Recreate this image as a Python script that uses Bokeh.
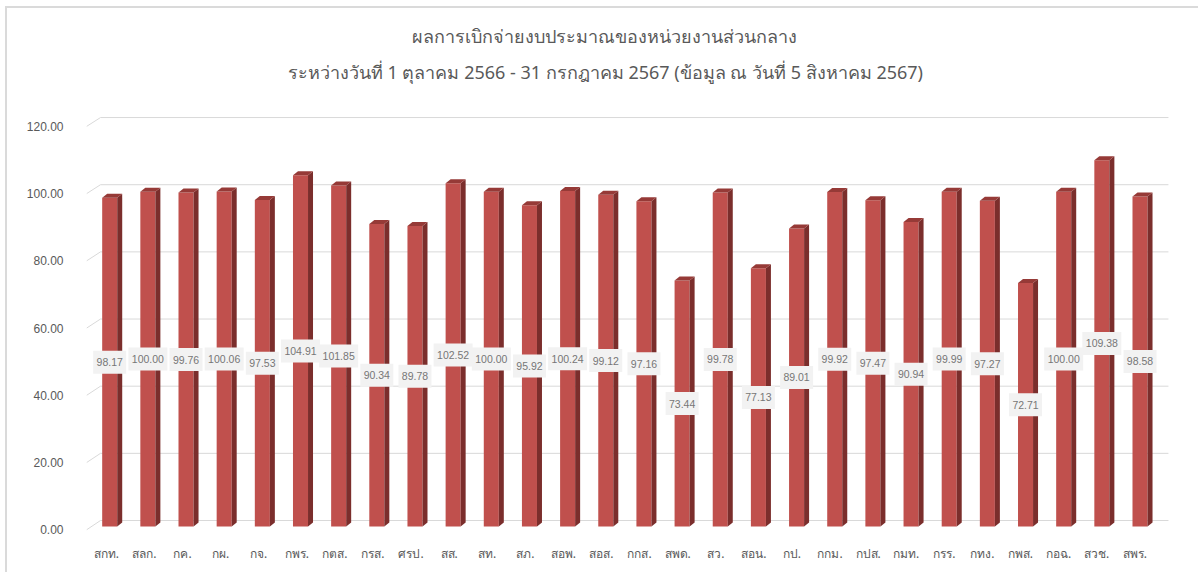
from bokeh.plotting import figure
from bokeh.models import Range1d, LinearAxis, FixedTicker, ColumnDataSource
from bokeh.core.properties import value
from bokeh.embed import file_html
from bokeh.resources import INLINE

title_line1 = "ผลการเบิกจ่ายงบประมาณของหน่วยงานส่วนกลาง"
title_line2 = "ระหว่างวันที่ 1 ตุลาคม 2566 - 31 กรกฎาคม 2567 (ข้อมูล ณ วันที่ 5 สิงหาคม 2567)"

categories = ["สกท.", "สลก.", "กค.", "กผ.", "กจ.", "กพร.", "กตส.", "กรส.", "ศรป.", "สส.",
              "สท.", "สภ.", "สอพ.", "สอส.", "กกส.", "สพด.", "สว.", "สอน.", "กป.", "กกม.",
              "กปส.", "กมท.", "กรร.", "กทง.", "กพส.", "กอฉ.", "สวช.", "สพร."]
values = [98.17, 100.00, 99.76, 100.06, 97.53, 104.91, 101.85, 90.34, 89.78, 102.52,
          100.00, 95.92, 100.24, 99.12, 97.16, 73.44, 99.78, 77.13, 89.01, 99.92,
          97.47, 90.94, 99.99, 97.27, 72.71, 100.00, 109.38, 98.58]
y_ticks = [0, 20, 40, 60, 80, 100, 120]
y_tick_labels = ["0.00", "20.00", "40.00", "60.00", "80.00", "100.00", "120.00"]

FRONT = "#C0504D"
SIDE = "#7B2E2C"
TOP = "#963A37"
GRID = "#D9D9D9"
TXT = "#595959"

# the frame reaches the top of the canvas so the two title lines are drawn inside it
p = figure(width=1193, height=566, output_backend="svg", toolbar_location=None,
           x_range=Range1d(-0.608, 27.93), y_range=Range1d(-2.987, 154.72),
           x_axis_location=None, y_axis_location=None,
           min_border_left=79, min_border_right=25, min_border_top=0, min_border_bottom=38)
p.outline_line_color = None
p.grid.visible = False
p.background_fill_color = "white"
p.border_fill_color = "white"
p.styles = {"margin-left": "5px", "margin-top": "6px",
            "border-left": "2px solid #DADADA", "border-top": "2px solid #DADADA"}

# axes with their own ranges (labels sit on the front edge of the 3-D floor)
p.extra_x_ranges = {"lab": Range1d(-0.520, 28.07)}
p.extra_y_ranges = {"lab": Range1d(-1.99, 155.10)}

n = len(categories)
xaxis = LinearAxis(x_range_name="lab", ticker=FixedTicker(ticks=list(range(n))),
                   major_label_overrides={i: c for i, c in enumerate(categories)})
yaxis = LinearAxis(y_range_name="lab", ticker=FixedTicker(ticks=y_ticks),
                   major_label_overrides={t: l for t, l in zip(y_ticks, y_tick_labels)})
for ax in (xaxis, yaxis):
    ax.axis_line_color = None
    ax.major_tick_line_color = None
    ax.minor_tick_line_color = None
    ax.major_label_text_color = TXT
    ax.major_label_text_font = "Noto Sans"
    ax.major_label_text_font_size = "12px"
xaxis.major_label_standoff = 2
yaxis.major_label_standoff = 17
yaxis.major_label_text_font = "Liberation Sans"
p.add_layout(xaxis, "below")
p.add_layout(yaxis, "left")

# two-line title
p.text(x=[12.97, 12.99], y=[146.36, 135.90], text=[title_line1, title_line2],
       text_align="center", text_baseline="middle", text_font=value("Noto Sans"),
       text_font_size="18px", text_color=TXT)

# 3-D gridlines: diagonal from the front axis to the back wall, then horizontal on the wall
x_front, x_back, x_end = -0.608, -0.241, 27.745
gx0, gy0, gx1, gy1, hx0, hy, hx1 = [], [], [], [], [], [], []
for t in y_ticks:
    yf = t * 1.004 - 1.0
    yb = t * 1.003 + 1.79
    gx0.append(x_front); gy0.append(yf); gx1.append(x_back); gy1.append(yb)
    hx0.append(x_back); hy.append(yb); hx1.append(x_end)
p.segment(gx0, gy0, gx1, gy1, line_color=GRID, line_width=1)
p.segment(hx0, hy, hx1, hy, line_color=GRID, line_width=1)

# 3-D bars
hw = 0.197     # half front width
dx = 0.131     # depth offset in x
dy = 1.2       # depth offset in y
xs = list(range(n))
p.quad(left=[x - hw for x in xs], right=[x + hw for x in xs], bottom=0, top=values,
       fill_color=FRONT, line_color=None)
side_xs = [[x + hw, x + hw + dx, x + hw + dx, x + hw] for x in xs]
side_ys = [[0, dy, v + dy, v] for v in values]
p.patches(side_xs, side_ys, fill_color=SIDE, line_color=None)
top_xs = [[x - hw, x + hw, x + hw + dx, x - hw + dx] for x in xs]
top_ys = [[v, v, v + dy, v + dy] for v in values]
p.patches(top_xs, top_ys, fill_color=TOP, line_color=None)

# data labels
labels = [f"{v:.2f}" for v in values]
src = ColumnDataSource(dict(x=xs, y=[v / 2 for v in values], text=labels,
                            w=[6 * len(s) + 3 for s in labels]))
p.rect(x="x", y="y", width="w", height=23, width_units="screen", height_units="screen",
       source=src, fill_color="#F2F2F2", line_color=None)
p.text(x="x", y="y", text="text", source=src, text_align="center", text_baseline="middle",
       text_font=value("Liberation Sans"), text_font_size="10.5px", text_color="#767676")

open("out.html", "w").write(file_html(p, INLINE))
